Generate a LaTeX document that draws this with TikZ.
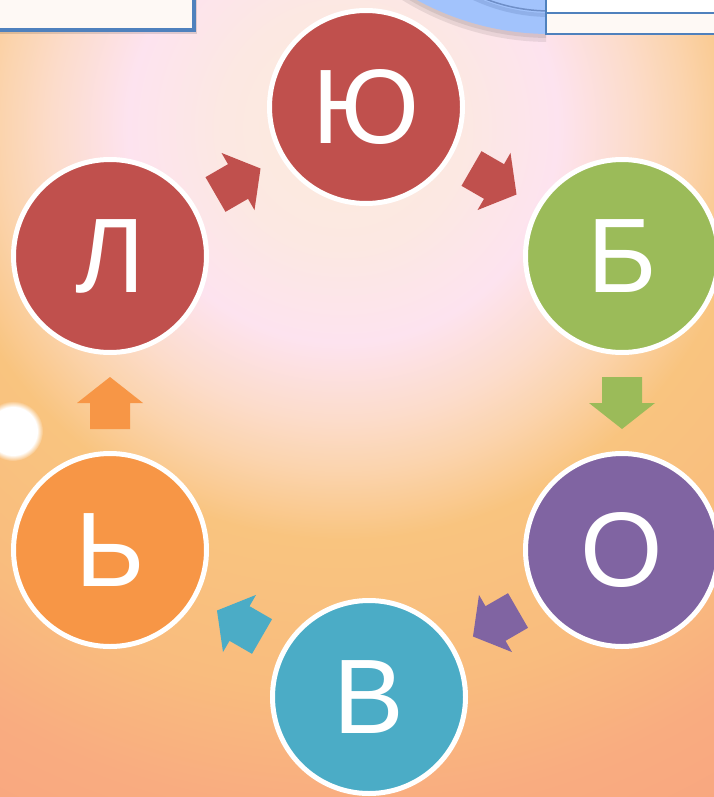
\documentclass[tikz,border=0pt]{standalone}
\usepackage{fontspec}
\setmainfont{Liberation Sans}
\usepackage{xcolor}
\usetikzlibrary{calc,fadings}

\definecolor{ringred}{HTML}{C0504D}
\definecolor{ringgreen}{HTML}{9BBB59}
\definecolor{ringpurple}{HTML}{8064A2}
\definecolor{ringteal}{HTML}{4BACC6}
\definecolor{ringorange}{HTML}{F79646}
\definecolor{boxblue}{HTML}{4F81BD}
\definecolor{arcblue}{HTML}{A2C3FC}
\definecolor{arcdark}{HTML}{6F8FC8}
\definecolor{bgcream}{HTML}{FDEBDD}
\definecolor{bgcream2}{HTML}{FCE8E2}
\definecolor{bgpink}{HTML}{FDE3EF}
\definecolor{bgrose}{HTML}{FCDCCB}
\definecolor{bgpeach}{HTML}{FBD4AE}
\definecolor{bgorange}{HTML}{F9C47F}
\definecolor{bgorange2}{HTML}{F9BC7E}
\definecolor{bgsalmon}{HTML}{F9AC80}
\definecolor{bgsalmon2}{HTML}{F8A580}

\pgfdeclareradialshading{sunset}{\pgfpoint{0bp}{0bp}}{%
  color(0bp)=(bgcream); color(120bp)=(bgcream2); color(214bp)=(bgpink);
  color(290bp)=(bgrose); color(340bp)=(bgpeach); color(410bp)=(bgorange);
  color(560bp)=(bgorange2); color(680bp)=(bgsalmon); color(800bp)=(bgsalmon2)}

\begin{document}
\begin{tikzpicture}[x=1pt,y=-1pt,
    letter/.style={circle, draw=white, line width=5pt, minimum size=193pt,
      inner sep=0pt, text=white, font=\fontsize{106}{106}\selectfont}]
    \useasboundingbox (0,0) rectangle (714,797);
    \clip (0,0) rectangle (714,797);
    % background
    \node[inner sep=0pt] (bg) at (343,128) {\pgfuseshading{sunset}};
    % boxes at the top
    \fill[black, opacity=0.12] (-10,-10) rectangle (197,34);
    \filldraw[fill=white!70!bgcream, draw=boxblue, line width=3.5pt] (-10,-10) rectangle (194,30);
    \begin{scope}
      \clip (0,-10) rectangle (546,60);
      \fill[black, opacity=0.08] (550,-239) circle[radius=281];
      \fill[black, opacity=0.08] (550,-241) circle[radius=279];
      \fill[arcblue] (550,-243) circle[radius=277];
      \draw[arcdark, opacity=0.35, line width=4pt] (550,-165) circle[radius=180];
      \fill[arcblue] (550,-167) circle[radius=178];
      \draw[arcdark, line width=1.5pt] (550,-167) circle[radius=178];
    \end{scope}
    \filldraw[fill=white, draw=boxblue, line width=2pt] (546,-10) rectangle (720,13);
    \filldraw[fill=white!70!bgcream, draw=boxblue, line width=2pt] (546,13) rectangle (720,34);
    % glow on the left
    \fill[white, path fading=circle with fuzzy edge 20 percent] (13,431) circle[radius=30];
    % circles
    \node[letter, fill=ringred] (ju) at (366,107) {Ю};
    \node[letter, fill=ringgreen] (b) at (622,256) {Б};
    \node[letter, fill=ringpurple] (o) at (622,550) {О};
    \node[letter, fill=ringteal] (v) at (369,697) {В};
    \node[letter, fill=ringorange] (mz) at (110,550) {Ь};
    \node[letter, fill=ringred] (l) at (110,256) {Л};
    % arrows
    \foreach \from/\to/\ang/\col in {l/ju/30/ringred, ju/b/-30/ringred,
        b/o/-90/ringgreen, o/v/-150/ringpurple, v/mz/150/ringteal, mz/l/90/ringorange}
      \fill[\col, shift={($(\from)!0.5!(\to)$)}, rotate=\ang]
        (-26,-20) -- (0,-20) -- (0,-33) -- (26,0) -- (0,33) -- (0,20) -- (-26,20) -- cycle;
\end{tikzpicture}
\end{document}
